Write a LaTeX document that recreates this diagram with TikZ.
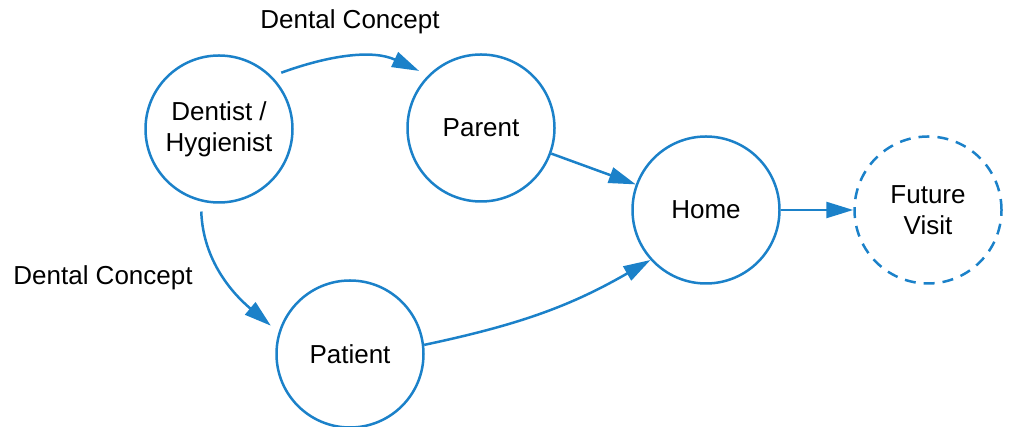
\documentclass[tikz,border=0pt]{standalone}
\usepackage{fontspec}
\setmainfont{Liberation Sans}
\usetikzlibrary{arrows.meta}
\definecolor{flowblue}{RGB}{27,129,201}
\begin{document}
\begin{tikzpicture}[x=1pt,y=1pt,
  stage/.style={circle, draw=flowblue, line width=2.5pt, minimum size=147pt,
    inner sep=0pt, align=center, font=\fontsize{26}{31}\selectfont},
  later/.style={stage, dash pattern=on 11pt off 8pt},
  flow/.style={draw=flowblue, line width=2.5pt,
    -{Triangle[length=27pt,width=16pt]}},
  gap/.style={shorten <=10pt, shorten >=10pt},
  caption/.style={font=\fontsize{26}{31}\selectfont, anchor=base}]
\useasboundingbox (0,0) rectangle (1009,427);

\node[stage] (den) at (219,298) {Dentist /\\Hygienist};
\node[stage] (par) at (481,299) {Parent};
\node[stage] (pat) at (350,73) {Patient};
\node[stage] (home) at (706,217) {Home};
\node[later] (fut) at (928,217) {Future\\Visit};

\node[caption] (capa) at (350,398) {Dental Concept};
\node[caption] (capb) at (103,142) {Dental Concept};

\draw[flow, gap] (den.45) to[out=20, in=155] (par.135);
\draw[flow, gap] (den.256) to[out=272, in=140] (pat.163);
\draw[flow] (par) -- (home);
\draw[flow] (pat.7) to[out=12, in=210] (home.222);
\draw[flow] (home) -- (fut);
\end{tikzpicture}
\end{document}
